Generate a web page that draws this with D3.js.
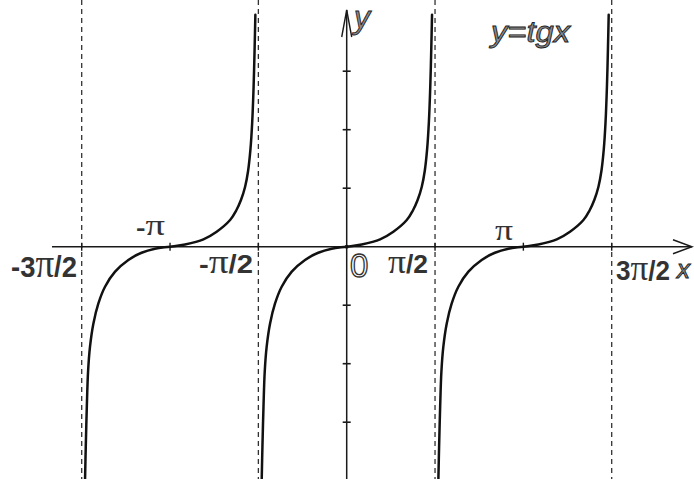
<!DOCTYPE html>
<html>
<head>
<meta charset="utf-8">
<script src="https://cdn.jsdelivr.net/npm/d3@7/dist/d3.min.js"></script>
<style>
  html, body { margin: 0; padding: 0; background: #fff; }
  svg { display: block; }
</style>
</head>
<body>
<svg id="chart" width="694" height="479"></svg>
<script>
// x is measured in multiples of π, y in tick units of the vertical axis
const branchCenters = [-1, 0, 1];
const asymptotes = [-1.5, -0.5, 0.5, 1.5];
// one branch of tg x, offsets from the branch centre
const branchX = [-0.481, -0.477, -0.471, -0.464, -0.453, -0.434, -0.406, -0.368, -0.311, -0.236, -0.161, -0.085,
                 0, 0.085, 0.189, 0.264, 0.340, 0.374, 0.402, 0.425, 0.442, 0.455, 0.465, 0.473, 0.479, 0.483];
const branchY = [-3.966, -3.419, -2.735, -2.137, -1.709, -1.316, -0.974, -0.684, -0.427, -0.227, -0.103, -0.034,
                 0, 0.039, 0.126, 0.256, 0.456, 0.615, 0.803, 1.026, 1.299, 1.658, 2.120, 2.735, 3.419, 3.966];
const xTickValues = [-1.5, -1, -0.5, 0.5, 1, 1.5];
const xLabelValues = [-1.5, -1, -0.5, 0, 0.5, 1, 1.5];
const xLabelTexts = ["-3π/2", "-π", "-π/2", "0", "π/2", "π", "3π/2"];
const yTickValues = [-3, -2, -1, 1, 2, 3];
const titleText = "y=tgx";

const svg = d3.select("#chart");
const x = d3.scaleLinear().domain([-1.5, 1.5]).range([81.7, 611.7]);
const y = d3.scaleLinear().domain([-4, 4]).range([480.7, 12.7]);
const X0 = x(0), Y0 = y(0);
const ink = "#1a1a1a";

// asymptotes
svg.selectAll("line.asym").data(asymptotes).join("line")
  .attr("x1", d => x(d)).attr("x2", d => x(d))
  .attr("y1", 0).attr("y2", 479)
  .attr("stroke", "#333").attr("stroke-width", 1.3)
  .attr("stroke-dasharray", "5,4");

// x axis with open arrow
svg.append("line").attr("x1", 52).attr("x2", 692).attr("y1", Y0).attr("y2", Y0)
  .attr("stroke", ink).attr("stroke-width", 1.5);
svg.append("path").attr("d", `M673,${Y0 - 7} L692,${Y0} L673,${Y0 + 7}`)
  .attr("fill", "none").attr("stroke", ink).attr("stroke-width", 1.5);

// y axis with open arrow
svg.append("line").attr("x1", X0).attr("x2", X0).attr("y1", 479).attr("y2", 10)
  .attr("stroke", ink).attr("stroke-width", 1.5);
svg.append("path").attr("d", `M${X0 - 5},37 L${X0},10 L${X0 + 5},37`)
  .attr("fill", "none").attr("stroke", ink).attr("stroke-width", 1.4);

// ticks
svg.selectAll("line.xt").data(xTickValues).join("line")
  .attr("x1", d => x(d)).attr("x2", d => x(d))
  .attr("y1", Y0 - 4).attr("y2", Y0 + 4)
  .attr("stroke", ink).attr("stroke-width", 1.4);
svg.selectAll("line.yt").data(yTickValues).join("line")
  .attr("x1", X0 - 4).attr("x2", X0 + 4)
  .attr("y1", d => y(d)).attr("y2", d => y(d))
  .attr("stroke", ink).attr("stroke-width", 1.6);
svg.append("circle").attr("cx", X0).attr("cy", Y0).attr("r", 2).attr("fill", ink);

// branches of the tangent
const pts = branchX.map((v, i) => [v, branchY[i]]);
const line = d3.line()
  .x(d => x(d[0])).y(d => y(d[1]))
  .curve(d3.curveCatmullRom.alpha(0.5));
svg.selectAll("path.branch").data(branchCenters).join("path")
  .attr("d", c => line(pts.map(p => [c + p[0], p[1]])))
  .attr("fill", "none").attr("stroke", "#111").attr("stroke-width", 2.5)
  .attr("stroke-linecap", "round");

// x labels
const labelLayout = [
  {dx: -70.7, by: 277, w: 66, fs: 30},
  {dx: -34,   by: 235, w: 29, fs: 22},
  {dx: -59.4, by: 273, w: 54, fs: 25},
  {dx: 3.3,   by: 277, w: null, fs: 33},
  {dx: -47,   by: 273, w: 40, fs: 25},
  {dx: -28.3, by: 240, w: 18, fs: 22},
  {dx: 4.3,   by: 280, w: 54, fs: 27}
];
xLabelValues.forEach((v, i) => {
  const L = labelLayout[i];
  const t = svg.append("text")
    .attr("x", x(v) + L.dx).attr("y", L.by)
    .attr("font-family", "'Liberation Sans', Arial, sans-serif")
    .attr("font-size", L.fs);
  if (xLabelTexts[i] === "0") {
    t.text("0").attr("fill", "#fff").attr("stroke", "#333").attr("stroke-width", 1.3);
    return;
  }
  t.attr("fill", "#333").attr("font-weight", "bold");
  if (L.w) t.attr("textLength", L.w).attr("lengthAdjust", "spacingAndGlyphs");
  xLabelTexts[i].split(/(π)/).filter(s => s.length).forEach(s => {
    const sp = t.append("tspan").text(s);
    if (s === "π") sp.attr("font-family", "'Liberation Serif', 'DejaVu Serif', serif")
      .attr("font-size", L.fs * 1.35).attr("font-weight", "normal");
  });
});

// axis names and title: italic outlined lettering
function outlined(sel) {
  return sel.attr("font-family", "'Liberation Sans', Arial, sans-serif")
    .attr("font-style", "italic").attr("fill", "#8a8a8a")
    .attr("stroke", "#222").attr("stroke-width", 0.9);
}
outlined(svg.append("text").attr("x", 354).attr("y", 28).attr("font-size", 32).text("y"));
outlined(svg.append("text").attr("x", 677).attr("y", 278).attr("font-size", 26).text("x"));
outlined(svg.append("text").attr("x", 491).attr("y", 41.5).attr("font-size", 30)
  .attr("textLength", 79).attr("lengthAdjust", "spacingAndGlyphs").text(titleText));
</script>
</body>
</html>
